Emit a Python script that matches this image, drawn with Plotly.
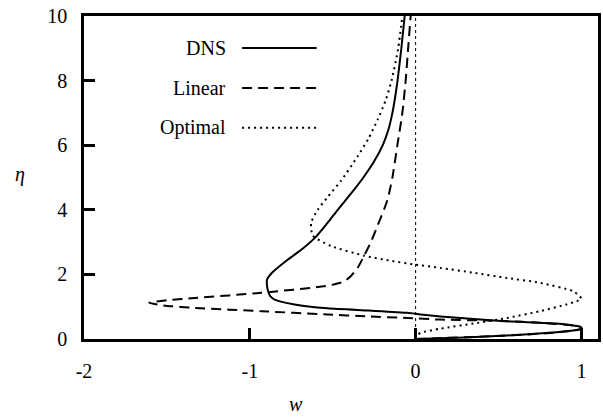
import plotly.graph_objects as go

# DNS profile (eta, w)
dns_eta = [0, 0.05, 0.11, 0.16, 0.21, 0.26, 0.32, 0.38, 0.43, 0.48, 0.55, 0.62, 0.70, 0.76, 0.81,
           0.88, 0.95, 1.07, 1.22, 1.32, 1.43, 1.6, 1.84, 2.05, 2.46, 2.8, 3.17, 3.6, 4.0, 4.5,
           5.0, 5.5, 6.0, 6.5, 7.0, 7.5, 8.0, 9.0, 10.0]
dns_w = [0, 0.3, 0.55, 0.72, 0.85, 0.95, 1.0, 0.99, 0.93, 0.85, 0.55, 0.35, 0.15, 0.03, -0.05,
         -0.28, -0.53, -0.73, -0.85, -0.875, -0.886, -0.895, -0.896, -0.866, -0.77, -0.68, -0.60,
         -0.53, -0.47, -0.39, -0.315, -0.25, -0.198, -0.163, -0.14, -0.123, -0.109, -0.086,
         -0.066]

# Linear profile
lin_eta = [0, 0.1, 0.2, 0.3, 0.36, 0.42, 0.50, 0.57, 0.60, 0.65, 0.70, 0.76, 0.86, 0.96, 1.04,
           1.12, 1.20, 1.27, 1.43, 1.65, 1.75, 1.82, 1.95, 2.2, 2.58, 3.0, 3.5, 4.3, 5.0, 6.0,
           7.0, 8.0, 9.0, 10.0]
lin_w = [0, 0.52, 0.85, 0.99, 1.0, 0.95, 0.75, 0.45, 0.15, -0.05, -0.30, -0.53, -0.93, -1.33,
         -1.52, -1.607, -1.50, -1.33, -0.93, -0.53, -0.45, -0.42, -0.39, -0.35, -0.31, -0.27,
         -0.23, -0.17, -0.14, -0.11, -0.08, -0.06, -0.045, -0.03]

# Optimal profile
opt_eta = [0, 0.1, 0.19, 0.32, 0.48, 0.65, 0.86, 1.07, 1.17, 1.24, 1.32, 1.48, 1.74, 1.89, 2.05,
           2.20, 2.30, 2.42, 2.58, 2.88, 3.2, 3.6, 4.0, 4.4, 4.9, 5.65, 6.2, 6.78, 7.4, 8.0,
           9.0, 10.0]
opt_w = [0, 0.005, 0.03, 0.15, 0.35, 0.55, 0.75, 0.91, 0.97, 1.0, 0.99, 0.95, 0.75, 0.55, 0.35,
         0.15, 0.0, -0.15, -0.31, -0.51, -0.62, -0.63, -0.59, -0.53, -0.45, -0.35, -0.285,
         -0.23, -0.18, -0.145, -0.105, -0.08]

# zero reference line
zero_w = [0, 0]
zero_eta = [0, 10]

x_ticks = [-2, -1, 0, 1]
x_ticktext = ["-2", "-1", "0", "1"]
y_ticks = [0, 2, 4, 6, 8, 10]

series_names = ["DNS", "Linear", "Optimal"]

FONT = "Liberation Serif"
FS = 20

fig = go.Figure()
fig.add_trace(go.Scatter(x=zero_w, y=zero_eta, mode="lines",
                         line=dict(color="black", width=1, dash="3px,3px"), showlegend=False))
fig.add_trace(go.Scatter(x=dns_w, y=dns_eta, mode="lines", name="DNS",
                         line=dict(color="black", width=2, shape="spline", smoothing=0.6),
                         showlegend=False))
fig.add_trace(go.Scatter(x=lin_w, y=lin_eta, mode="lines", name="Linear",
                         line=dict(color="black", width=2, dash="10px,6px", shape="spline",
                                   smoothing=0.6), showlegend=False))
fig.add_trace(go.Scatter(x=opt_w, y=opt_eta, mode="lines", name="Optimal",
                         line=dict(color="black", width=2, dash="2px,4px", shape="spline",
                                   smoothing=0.6), showlegend=False))

L, R, T, B = 84, 2, 16, 77.5
W, H = 603, 417
pw, ph = W - L - R, H - T - B


def px(xp):
    return (xp - L) / pw


def py(yp):
    return (H - B - yp) / ph


dashes = ["solid", "10px,6px", "2px,4px"]
rows = [48, 88, 128]
annotations = []
shapes = []
for name, d, r in zip(series_names, dashes, rows):
    annotations.append(dict(x=px(229), y=py(r), xref="paper", yref="paper", text=name,
                            showarrow=False, xanchor="right", yanchor="middle",
                            font=dict(family=FONT, size=FS, color="black")))
    shapes.append(dict(type="line", xref="paper", yref="paper", x0=px(243), x1=px(318),
                       y0=py(r), y1=py(r), line=dict(color="black", width=2, dash=d)))

annotations.append(dict(x=px(20), y=py(175), xref="paper", yref="paper", text="<i>η</i>",
                        showarrow=False, xanchor="center", yanchor="middle",
                        font=dict(family=FONT, size=FS, color="black")))
annotations.append(dict(x=px(297), y=py(405), xref="paper", yref="paper", text="<i>w</i>",
                        showarrow=False, xanchor="center", yanchor="middle",
                        font=dict(family=FONT, size=FS, color="black")))

tickfont = dict(family=FONT, size=FS, color="black")

fig.update_layout(
    width=W, height=H,
    margin=dict(l=L, r=R, t=T, b=B),
    paper_bgcolor="white", plot_bgcolor="white",
    font=dict(family=FONT, size=FS, color="black"),
    annotations=annotations, shapes=shapes,
    xaxis=dict(range=[-2, 1.1], tickvals=x_ticks, ticktext=x_ticktext, ticks="inside",
               ticklen=11, tickwidth=2.5, tickcolor="black", showline=True, linewidth=2.5,
               linecolor="black", mirror=True, showgrid=False, zeroline=False,
               ticklabelstandoff=12, tickfont=tickfont),
    yaxis=dict(range=[0, 10], tickvals=y_ticks, ticks="inside", ticklen=11, tickwidth=2.5,
               tickcolor="black", showline=True, linewidth=2.5, linecolor="black", mirror=True,
               showgrid=False, zeroline=False, ticklabelstandoff=10, tickfont=tickfont),
)

fig.write_html("out.html")
